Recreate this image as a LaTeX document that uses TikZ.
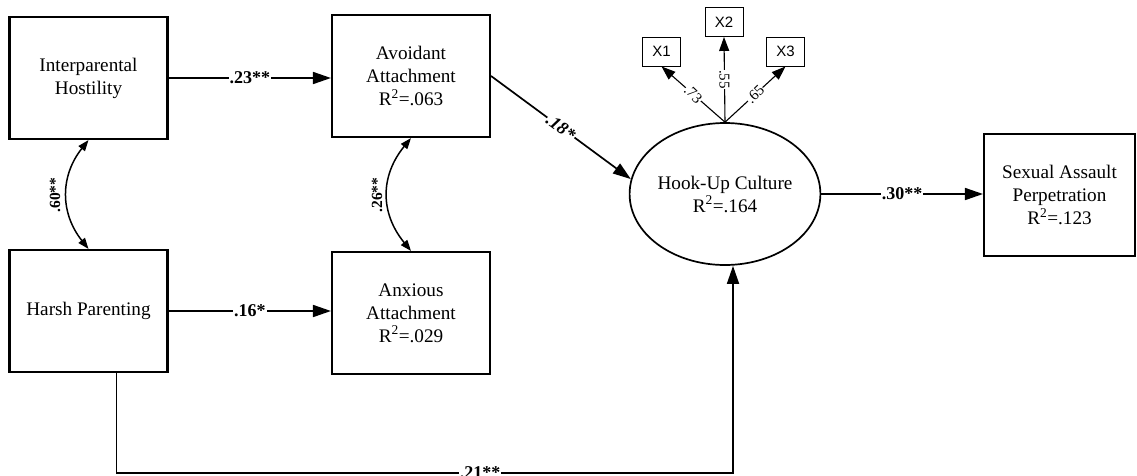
\documentclass[tikz,border=0pt]{standalone}
\usepackage{fontspec}
\setmainfont{Liberation Serif}
\newfontfamily\xsans{Liberation Sans}
\usetikzlibrary{arrows.meta,shapes.geometric}
\begin{document}
\begin{tikzpicture}[x=1pt,y=-1pt,
  box/.style={draw, line width=2.1pt, minimum width=158pt, minimum height=122pt,
    align=center, inner sep=0pt, font=\fontsize{19.2}{23}\selectfont},
  latent/.style={ellipse, draw, line width=1.7pt, minimum width=159pt, minimum height=142pt,
    align=center, inner sep=0pt, font=\fontsize{19.2}{23}\selectfont},
  xbox/.style={draw, line width=0.9pt, minimum width=38pt, minimum height=29pt,
    inner sep=0pt, font=\xsans\fontsize{15}{15}\selectfont},
  arr/.style={line width=1.7pt, -{Triangle[length=18pt,width=12pt]}},
  cov/.style={line width=1.5pt, {Triangle[length=11pt,width=8pt]}-{Triangle[length=11pt,width=8pt]}},
  xarr/.style={line width=1.1pt, -{Triangle[length=14pt,width=10pt]}},
  lab/.style={fill=white, inner sep=1pt, font=\bfseries\fontsize{18}{18}\selectfont},
  vlab/.style={inner sep=0pt, font=\bfseries\fontsize{15.5}{15.5}\selectfont},
  xlab/.style={fill=white, inner sep=0.5pt, font=\fontsize{15}{15}\selectfont}]
\useasboundingbox (0,0) rectangle (1137,475);

\node[box] (IH) at (88.5,78) {Interparental\\Hostility};
\node[box] (AV) at (411,76) {Avoidant\\Attachment\\R\textsuperscript{2}=.063};
\node[box] (HP) at (88.5,311) {Harsh Parenting};
\node[box] (AX) at (411,313) {Anxious\\Attachment\\R\textsuperscript{2}=.029};
\node[latent] (HC) at (725,194) {Hook-Up Culture\\R\textsuperscript{2}=.164};
\node[box, minimum width=151pt] (SA) at (1059.5,195) {Sexual Assault\\Perpetration\\R\textsuperscript{2}=.123};

\node[xbox] (X1) at (661.5,51.5) {X1};
\node[xbox] (X2) at (724,22) {X2};
\node[xbox] (X3) at (785.5,51.5) {X3};

\draw[arr] (IH.east) -- node[lab]{.23**} (IH.east -| AV.west);
\draw[arr] (HP.east) -- node[lab]{.16*} (HP.east -| AX.west);
\draw[arr] (HC.east) -- node[lab]{.30**} (HC.east -| SA.west);
\draw[arr] (AV.east) -- node[lab, sloped, font=\bfseries\itshape\fontsize{18}{18}\selectfont]{.18*} (HC.171);
\draw[arr] ([xshift=28pt]HP.south) -- ++(0,100) -| node[lab, pos=0.295]{.21**} ([xshift=8pt]HC.south);

\draw[cov] (IH.south) .. controls (60,176) and (60,213) .. (HP.north);
\node[vlab, rotate=90] (l60) at (55,195) {.60**};
\draw[cov] (AV.south) .. controls (380,176) and (380,213) .. (AX.north);
\node[vlab, rotate=90] (l26) at (377,195) {.26**};

\draw[xarr] (HC.north) -- node[xlab, rotate=-44]{.73} (X1.south);
\draw[xarr] (HC.north) -- node[xlab, rotate=-90]{.55} (X2.south);
\draw[xarr] (HC.north) -- node[xlab, rotate=44]{.65} (X3.south);
\end{tikzpicture}
\end{document}
